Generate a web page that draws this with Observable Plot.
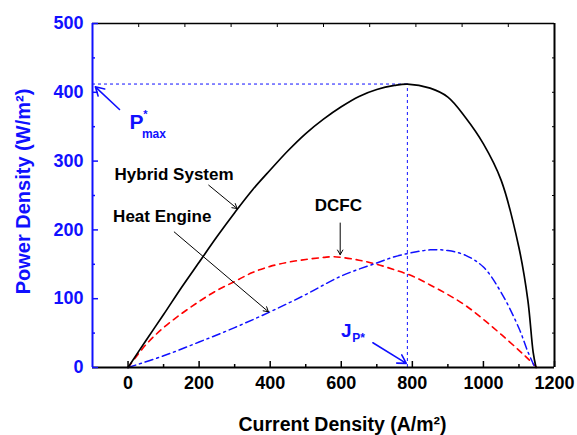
<!DOCTYPE html>
<html><head><meta charset="utf-8">
<script src="https://cdn.jsdelivr.net/npm/d3@7"></script>
<script src="https://cdn.jsdelivr.net/npm/@observablehq/plot@0.6"></script>
<style>
body{margin:0;background:#fff;}
#chart svg{font-family:"Liberation Sans",Arial,sans-serif;}
</style></head><body><div id="chart"></div>
<script>
// ---- data ----
const hybridJ = [0,50,100,150,200,250,300,350,400,450,500,550,600,650,700,750,786,850,900,950,1000,1050,1100,1125,1140,1148];
const hybridP = [0,39,77,116,153,190,225,258,287,315,340,361,379,394,404,410,412,406,393,363,325,272,174,98,22,0];
const dcfcJ = [0,50,100,150,200,250,300,350,400,450,500,550,580,650,700,750,800,850,900,950,1000,1050,1100,1125,1150];
const dcfcP = [0,33,58,78,96,112,125,138,147,153,157,160,161,156,150,142,133,120,106,90,70,48,25,13,0];
const heJ = [0,100,200,300,400,500,600,700,750,800,850,900,950,1000,1050,1100,1125,1145];
const heP = [0,17,37,58,81,106,133,152,161,167,171,170,163,146,109,57,23,0];

const xMajor = [0,200,400,600,800,1000,1200];
const xMinor = [100,300,500,700,900,1100];
const yMajor = [0,100,200,300,400,500];
const yMinor = [50,150,250,350,450];
const xTop = [30,160,290,420,550,680,810,940,1070];
const yRight = [50,100,150,200,250,300,350,400,450];

const peakJ = 786, peakP = 412;

const leftLabels = [
  {text:"Hybrid System", J:-38, P:272},
  {text:"Heat Engine", J:-42, P:211}
];
const centerLabels = [
  {text:"DCFC", J:592, P:227}
];
const blackArrows = [
  {J1:227, P1:265, J2:307, P2:231},
  {J1:130, P1:197, J2:395, P2:81},
  {J1:597, P1:210, J2:597, P2:164}
];
const blueArrows = [
  {J1:-24, P1:375, J2:-92, P2:408},
  {J1:689, P1:36, J2:783, P2:6}
];

const toRows = (J, P) => J.map((j, i) => ({J: j, P: P[i]}));
const hybrid = toRows(hybridJ, hybridP);
const dcfc = toRows(dcfcJ, dcfcP);
const he = toRows(heJ, heP);
const BLUE = "#1010ff";
const FONT = "Liberation Sans, Arial, sans-serif";
const fmt = d => String(d);

const plot = Plot.plot({
  width: 577, height: 435,
  marginLeft: 92, marginRight: 23, marginTop: 23, marginBottom: 68,
  style: {fontFamily: FONT, background: "white", overflow: "visible"},
  x: {domain: [-100, 1200]},
  y: {domain: [0, 500]},
  marks: [
    // reference lines
    Plot.ruleY([peakP], {x1: -100, x2: peakJ, stroke: BLUE, strokeWidth: 1, strokeDasharray: "3,3"}),
    Plot.ruleX([peakJ], {y1: 0, y2: peakP, stroke: BLUE, strokeWidth: 1, strokeDasharray: "3,3"}),
    // curves
    Plot.line(dcfc, {x: "J", y: "P", stroke: "#ff0000", strokeWidth: 1.6, strokeDasharray: "6,5", curve: "catmull-rom"}),
    Plot.line(he, {x: "J", y: "P", stroke: BLUE, strokeWidth: 1.5, strokeDasharray: "8,4,2,4", curve: "catmull-rom"}),
    Plot.line(hybrid, {x: "J", y: "P", stroke: "black", strokeWidth: 1.7, curve: "catmull-rom"}),
    // frame
    Plot.ruleY([500], {stroke: "black", strokeWidth: 1.5}),
    Plot.ruleX([1200], {stroke: "black", strokeWidth: 2}),
    Plot.ruleY([0], {stroke: "black", strokeWidth: 2}),
    Plot.ruleX([-100], {stroke: BLUE, strokeWidth: 2}),
    // inward ticks (drawn outward, then shifted inside)
    Plot.axisX({anchor: "bottom", ticks: xMajor, tickSize: 6, dy: -6, text: null, label: null, stroke: "black", strokeWidth: 1.5}),
    Plot.axisX({anchor: "bottom", ticks: xMinor, tickSize: 3, dy: -3, text: null, label: null, stroke: "black", strokeWidth: 1.5}),
    Plot.axisX({anchor: "top", ticks: xTop, tickSize: 3, dy: 3, text: null, label: null, stroke: "black", strokeWidth: 1}),
    Plot.axisY({anchor: "left", ticks: yMajor, tickSize: 6, dx: 6, text: null, label: null, stroke: BLUE, strokeWidth: 1.5}),
    Plot.axisY({anchor: "left", ticks: yMinor, tickSize: 3, dx: 3, text: null, label: null, stroke: BLUE, strokeWidth: 1.5}),
    Plot.axisY({anchor: "right", ticks: yRight, tickSize: 3, dx: -3, text: null, label: null, stroke: "black", strokeWidth: 1}),
    // tick labels
    Plot.axisX({anchor: "bottom", ticks: xMajor, tickSize: 0, tickPadding: 9, tickFormat: fmt, label: null, fill: "black", fontSize: 18, fontWeight: "bold"}),
    Plot.axisY({anchor: "left", ticks: yMajor, tickSize: 0, tickPadding: 9, tickFormat: fmt, label: null, fill: BLUE, fontSize: 18, fontWeight: "bold"}),
    // axis titles
    Plot.text(["Current Density (A/m²)"], {frameAnchor: "bottom", textAnchor: "middle", dx: 19, dy: 63, lineAnchor: "bottom", fontSize: 19.5, fontWeight: "bold", fill: "black"}),
    Plot.text(["Power Density (W/m²)"], {frameAnchor: "left", textAnchor: "middle", dx: -63, dy: -4, rotate: -90, lineAnchor: "bottom", fontSize: 20, fontWeight: "bold", fill: BLUE}),
    // annotations
    Plot.text(leftLabels, {x: "J", y: "P", text: "text", textAnchor: "start", lineAnchor: "bottom", fontSize: 17, fontWeight: "bold", fill: "black"}),
    Plot.text(centerLabels, {x: "J", y: "P", text: "text", textAnchor: "middle", lineAnchor: "bottom", fontSize: 17, fontWeight: "bold", fill: "black"}),
    Plot.arrow(blackArrows, {x1: "J1", y1: "P1", x2: "J2", y2: "P2", stroke: "black", strokeWidth: 1, headLength: 8}),
    Plot.arrow(blueArrows, {x1: "J1", y1: "P1", x2: "J2", y2: "P2", stroke: BLUE, strokeWidth: 1.6, headLength: 9}),
    Plot.text(["P"], {x: [4], y: [347], textAnchor: "start", lineAnchor: "bottom", fontSize: 21, fontWeight: "bold", fill: BLUE}),
    Plot.text(["*"], {x: [43], y: [362], textAnchor: "start", lineAnchor: "bottom", fontSize: 11, fontWeight: "bold", fill: BLUE}),
    Plot.text(["max"], {x: [39], y: [334], textAnchor: "start", lineAnchor: "bottom", fontSize: 12, fontWeight: "bold", fill: BLUE}),
    Plot.text(["J"], {x: [599], y: [44], textAnchor: "start", lineAnchor: "bottom", fontSize: 19, fontWeight: "bold", fill: BLUE}),
    Plot.text(["P*"], {x: [631], y: [37], textAnchor: "start", lineAnchor: "bottom", fontSize: 12, fontWeight: "bold", fill: BLUE})
  ]
});
document.getElementById("chart").appendChild(plot);
</script>
</body></html>
